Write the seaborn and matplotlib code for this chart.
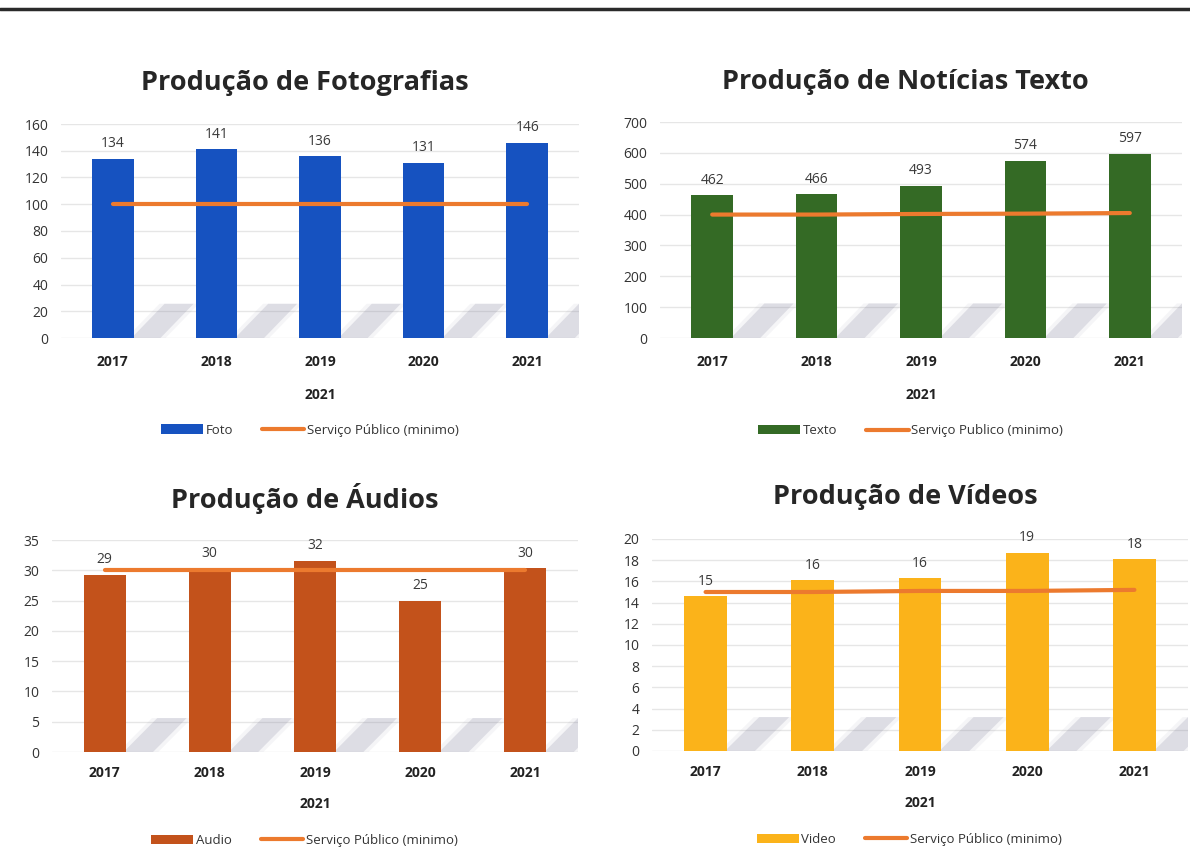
import matplotlib
matplotlib.use("Agg")
import matplotlib.pyplot as plt
import seaborn as sns
import numpy as np
from matplotlib.patches import Patch, Polygon
from matplotlib.lines import Line2D

sns.set_theme(style="white")
plt.rcParams['font.family'] = ['Open Sans', 'DejaVu Sans']

years = ["2017", "2018", "2019", "2020", "2021"]

foto = [134, 141, 136, 131, 146]
foto_min = [100, 100, 100, 100, 100]

texto = [462, 466, 493, 574, 597]
texto_min = [400, 400, 402, 403, 405]

audio = [29.3, 30.3, 31.6, 25.0, 30.3]
audio_min = [30, 30, 30, 30, 30]

video = [14.6, 16.1, 16.3, 18.7, 18.1]
video_min = [15, 15, 15.1, 15.1, 15.2]

titles = ["Produção de Fotografias", "Produção de Notícias Texto",
          "Produção de Áudios", "Produção de Vídeos"]
bar_names = ["Foto", "Texto", "Audio", "Video"]
line_names = ["Serviço Público (minimo)", "Serviço Publico (minimo)",
              "Serviço Público (minimo)", "Serviço Público (minimo)"]
colors = ["#1652c0", "#346a25", "#c3521b", "#fbb31a"]
line_color = "#ec7a2e"
ylims = [160, 700, 35, 20]
ysteps = [20, 100, 5, 2]

W, H = 1190, 860
fig = plt.figure(figsize=(W / 100, H / 100), dpi=100)

# axes boxes in pixel coordinates: left, right, top(y of ymax), bottom(y of 0)
boxes = [(61, 579, 124, 338), (660, 1182, 122, 338),
         (52, 578, 540, 752), (652, 1188, 539, 751)]
title_c = [(305, 83), (905, 82), (305, 498), (905, 497)]
xpad = [12, 12, 10, 10]
xlpad = [14, 14, 12, 12]
leg_y = [-0.345, -0.345, -0.33, -0.33]

series = [(foto, foto_min), (texto, texto_min), (audio, audio_min), (video, video_min)]

# top rule line
fig.add_artist(Line2D([0, 1], [1 - 9 / H, 1 - 9 / H], color="#2a2a2a", lw=2.5,
                      transform=fig.transFigure))

for k in range(4):
    l, r, t, b = boxes[k]
    ax = fig.add_axes([l / W, 1 - b / H, (r - l) / W, (b - t) / H])
    vals, mins = series[k]
    ymax = ylims[k]

    # decorative soft shadows behind bars
    for i in range(len(years)):
        for s, a in [(0.05, 0.08), (0.0, 0.22)]:
            poly = Polygon([(i + 0.18 - s, 0.0), (i + 0.46 + s, 0.0),
                            (i + 0.78 + s, 0.16 * ymax),
                            (i + 0.50 - s, 0.16 * ymax)], closed=True,
                           facecolor="#8a8aa2", edgecolor="none", alpha=a, zorder=1)
            ax.add_patch(poly)

    sns.barplot(x=years, y=vals, color=colors[k], width=0.4, ax=ax,
                saturation=1, zorder=3, edgecolor="none")
    sns.lineplot(x=np.arange(len(years)), y=mins, color=line_color, lw=3,
                 ax=ax, zorder=4)

    for i, v in enumerate(vals):
        ax.text(i, v + ymax * 0.035, f"{v:.0f}", ha="center", va="bottom",
                fontsize=10, color="#3a3a3a", zorder=5)

    ax.set_xlim(-0.5, 4.5)
    ax.set_ylim(0, ymax)
    ax.set_yticks(np.arange(0, ymax + 0.1, ysteps[k]))
    ax.yaxis.grid(True, color="#e6e6e6", lw=1)
    ax.set_axisbelow(True)
    for s in ax.spines.values():
        s.set_visible(False)
    ax.tick_params(axis="y", labelsize=10, colors="#333333", pad=9, length=0)
    ax.tick_params(axis="x", labelsize=10, colors="#222222", pad=xpad[k], length=0)
    for lab in ax.get_xticklabels():
        lab.set_fontweight("bold")
    ax.set_xlabel("2021", fontsize=10, fontweight="bold", color="#222222",
                  labelpad=xlpad[k])
    ax.set_ylabel("")

    handles = [Patch(facecolor=colors[k], edgecolor="none", label=bar_names[k]),
               Line2D([0], [0], color=line_color, lw=3, label=line_names[k])]
    leg = ax.legend(handles=handles, loc="upper center", bbox_to_anchor=(0.48, leg_y[k]),
                    ncol=2, frameon=False, fontsize=9.5, handlelength=3.2,
                    handleheight=0.7, handletextpad=0.2, columnspacing=2.2)
    for tx in leg.get_texts():
        tx.set_color("#333333")

    cx, cy = title_c[k]
    fig.text(cx / W, 1 - cy / H, titles[k], ha="center", va="center",
             fontsize=19.5, fontweight="bold", color="#262626")

fig.savefig("out.png", dpi=100, facecolor="white")
